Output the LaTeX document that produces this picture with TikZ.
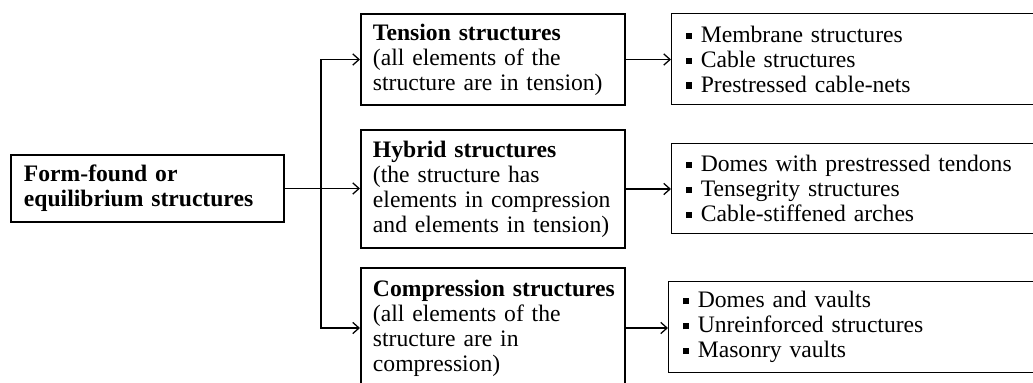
\documentclass[tikz,border=0pt]{standalone}
\usepackage{fontspec}
\setmainfont{Liberation Serif}
\usetikzlibrary{arrows.meta, positioning}

\newcommand{\diagfont}{\fontsize{16.8}{17.7}\selectfont}
\newcommand{\sqitem}{\raisebox{0.15em}{\rule{0.26em}{0.26em}}\hspace{0.38em}}

\tikzset{
    formbox/.style={rectangle, draw=black, line width=1.4pt, anchor=north west,
                    minimum width=6.825cm, text width=6.175cm, inner xsep=0.325cm,
                    inner ysep=0pt, align=left, font=\diagfont},
    typebox/.style={rectangle, draw=black, line width=1.4pt, anchor=north west,
                    minimum width=6.6cm, text width=6.0cm, inner xsep=0.3cm,
                    inner ysep=0pt, align=left, font=\diagfont},
    listbox/.style={rectangle, draw=black, line width=0.9pt, anchor=north west,
                    minimum width=10cm, text width=9.3cm, inner xsep=0.35cm,
                    inner ysep=0pt, align=left, font=\diagfont},
    arrow/.style={-{Straight Barb[length=4.5pt, width=8pt]}, line width=0.9pt},
}

\begin{document}
\begin{tikzpicture}[x=0.025cm, y=-0.025cm]
    \useasboundingbox (0,0) rectangle (1033,382);
    \begin{scope}
    \clip (0,0) rectangle (1033,382);

    % root
    \node[formbox, minimum height=1.675cm] (form) at (10,154)
        {\textbf{Form-found or}\\\textbf{equilibrium structures}};

    % structure types
    \node[typebox, minimum height=2.275cm] (tension) at (360,13)
        {\textbf{Tension structures}\\(all elements of the\\\mbox{structure are in tension)}};
    \node[typebox, minimum height=2.95cm] (hybrid) at (360,129)
        {\textbf{Hybrid structures}\\(the structure has\\\mbox{elements in compression}\\\mbox{and elements in tension)}};
    \node[typebox, minimum height=3.0cm] (compression) at (360,267)
        {\mbox{\textbf{Compression structures}}\\(all elements of the\\structure are in\\compression)};

    % examples
    \node[listbox, minimum height=2.275cm] (tensionlist) at (671,13)
        {\sqitem Membrane structures\\\sqitem Cable structures\\\sqitem Prestressed cable-nets};
    \node[listbox, minimum height=2.25cm] (hybridlist) at (671,143)
        {\sqitem Domes with prestressed tendons\\\sqitem Tensegrity structures\\\sqitem Cable-stiffened arches};
    \node[listbox, minimum height=2.275cm] (compressionlist) at (668,281)
        {\sqitem Domes and vaults\\\sqitem Unreinforced structures\\\sqitem Masonry vaults};

    % branching
    \coordinate (split) at (321,188);
    \draw[arrow] (form.east) -- (form.east -| hybrid.west);
    \draw[arrow] (split) |- (tension.west);
    \draw[arrow] (split) |- (compression.west);

    \draw[arrow] (tension.east) -- (tension.east -| tensionlist.west);
    \draw[arrow] (hybrid.east) -- (hybrid.east -| hybridlist.west);
    \draw[arrow] (compression.east) -- (compression.east -| compressionlist.west);
    \end{scope}
\end{tikzpicture}
\end{document}
